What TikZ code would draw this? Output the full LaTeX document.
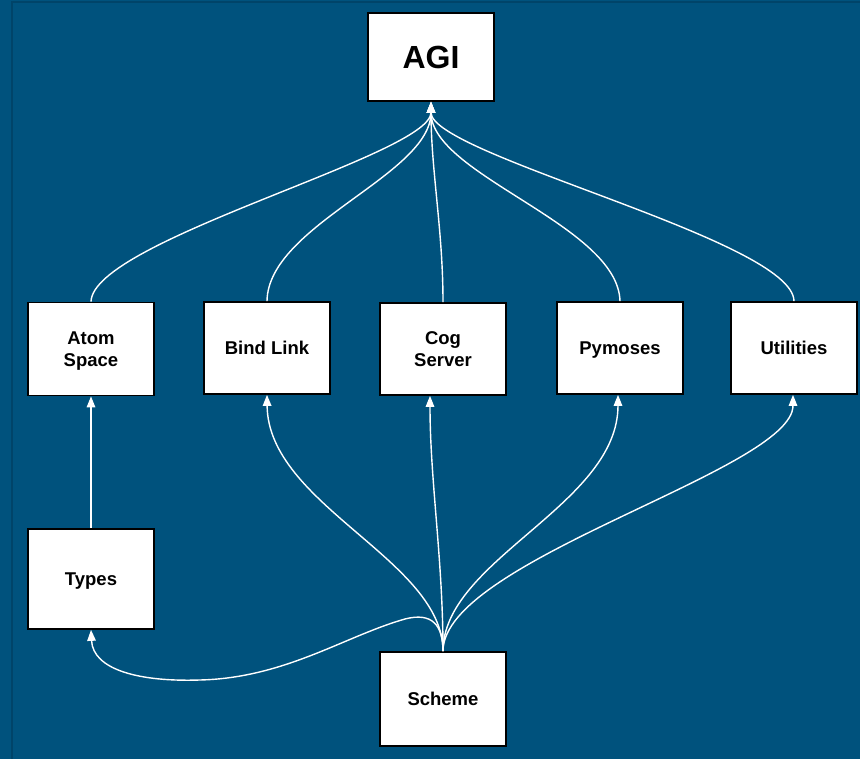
\documentclass[tikz,border=0pt]{standalone}
\usepackage{fontspec}
\setmainfont{Liberation Sans}
\usetikzlibrary{arrows.meta}
\definecolor{bg}{RGB}{0,82,125}
\definecolor{frameline}{RGB}{0,68,105}
\begin{document}
\begin{tikzpicture}[x=1pt,y=-1pt,
 box/.style={draw=black,line width=1.7pt,fill=white,minimum width=126pt,minimum height=92pt,align=center,inner sep=0pt,font=\fontsize{18.5}{22}\selectfont\bfseries},
 link/.style={draw=white,line width=1.4pt,-{Triangle[length=11pt,width=8.5pt]}}]
\fill[bg] (0,0) rectangle (860,759);
\useasboundingbox (0,0) rectangle (860,759);
\draw[frameline,line width=2pt] (12,759) -- (12,2) -- (860,2);

\node[box,minimum height=88pt,font=\fontsize{32}{36}\selectfont\bfseries] (agi) at (431,57) {AGI};
\node[box,minimum height=93pt,text depth=0pt] (atom) at (91,349) {Atom\\Space};
\node[box] (bind) at (267,348) {Bind Link};
\node[box,text depth=0pt] (cog) at (443,349) {Cog\\Server};
\node[box,text depth=0pt] (pym) at (620,348) {Pymoses};
\node[box] (util) at (794,348) {Utilities};
\node[box,minimum height=100pt,text depth=0pt] (types) at (91,579) {Types};
\node[box,minimum height=94pt] (scheme) at (443,699) {Scheme};

% upward to AGI
\draw[link] (atom.north) .. controls (93,240) and (431,155) .. (agi.south);
\draw[link] (bind.north) .. controls (268,225) and (431,175) .. (agi.south);
\draw[link] (cog.north) .. controls (443,230) and (431,170) .. (agi.south);
\draw[link] (pym.north) .. controls (618,225) and (431,175) .. (agi.south);
\draw[link] (util.north) .. controls (793,240) and (431,155) .. (agi.south);

% Types to Atom Space
\draw[link] (types.north) -- (atom.south);

% from Scheme
\draw[link] (scheme.north) .. controls (443,560) and (268,505) .. (bind.south);
\draw[link] (scheme.north) .. controls (443,560) and (430,480) .. ([xshift=-13pt]cog.south);
\draw[link] (scheme.north) .. controls (443,560) and (618,505) .. ([xshift=-2pt]pym.south);
\draw[link] (scheme.north) .. controls (443,560) and (793,470) .. ([xshift=-1pt]util.south);
\draw[link] (scheme.north) .. controls (443,625) and (432,612) .. (405,619)
   .. controls (345,636) and (285,678) .. (200,680)
   .. controls (140,682) and (93,670) .. (types.south);
\end{tikzpicture}
\end{document}
